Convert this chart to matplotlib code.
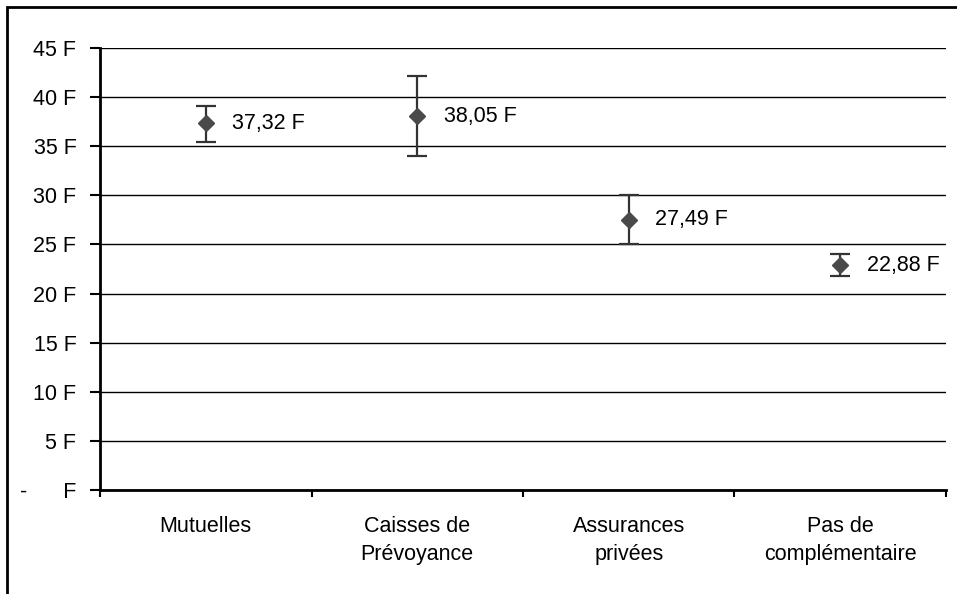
import matplotlib
matplotlib.use("Agg")
import matplotlib.pyplot as plt
from matplotlib.patches import Rectangle
from matplotlib.ticker import FuncFormatter

# data
categories = ["Mutuelles", "Caisses de\nPrévoyance", "Assurances\nprivées", "Pas de\ncomplémentaire"]
values = [37.32, 38.05, 27.49, 22.88]
err_low = [1.9, 4.05, 2.45, 1.1]
err_high = [1.8, 4.15, 2.5, 1.15]
labels = ["37,32 F", "38,05 F", "27,49 F", "22,88 F"]
yticks = [0, 5, 10, 15, 20, 25, 30, 35, 40, 45]

plt.rcParams['font.family'] = ['Liberation Sans', 'DejaVu Sans']
fs = 15.5

fig = plt.figure(figsize=(9.57, 5.94), dpi=100)
ax = fig.add_axes([100/957, 1-490/594, 846/957, 442/594])

# outer frame (Excel chart area)
frame = Rectangle((7/957, -0.1), 1.1, 1-7/594+0.1, transform=fig.transFigure,
                  fill=False, edgecolor='black', linewidth=2, clip_on=False)
fig.add_artist(frame)

x = list(range(len(categories)))
ax.errorbar(x, values, yerr=[err_low, err_high], fmt='D', color='#4a4a4a',
            ecolor='#333333', elinewidth=1.6, capsize=7, capthick=1.6,
            markersize=8, zorder=3)

for xi, v, lab in zip(x, values, labels):
    ax.annotate(lab, (xi, v), xytext=(19, 0), textcoords='offset points',
                va='center', ha='left', fontsize=fs)

ax.set_xlim(-0.5, len(categories)-0.5)
ax.set_ylim(0, 45)
ax.set_yticks(yticks)
ax.yaxis.set_major_formatter(FuncFormatter(lambda v, p: "-      F" if v == 0 else "%d F" % v))
ax.grid(axis='y', color='black', linewidth=1)
ax.set_axisbelow(True)

ax.set_xticks(x)
ax.set_xticklabels(categories, fontsize=fs, linespacing=1.4)
ax.set_xticks([i - 0.5 for i in range(len(categories)+1)], minor=True)
ax.tick_params(axis='x', which='major', length=0, pad=19)
ax.tick_params(axis='x', which='minor', length=5, width=1.5, direction='out')
ax.tick_params(axis='y', length=7, width=1.5, pad=10, labelsize=fs)

for s in ['top', 'right']:
    ax.spines[s].set_visible(False)
ax.spines['left'].set_linewidth(2)
ax.spines['bottom'].set_linewidth(2)

fig.savefig("out.png", dpi=100)
